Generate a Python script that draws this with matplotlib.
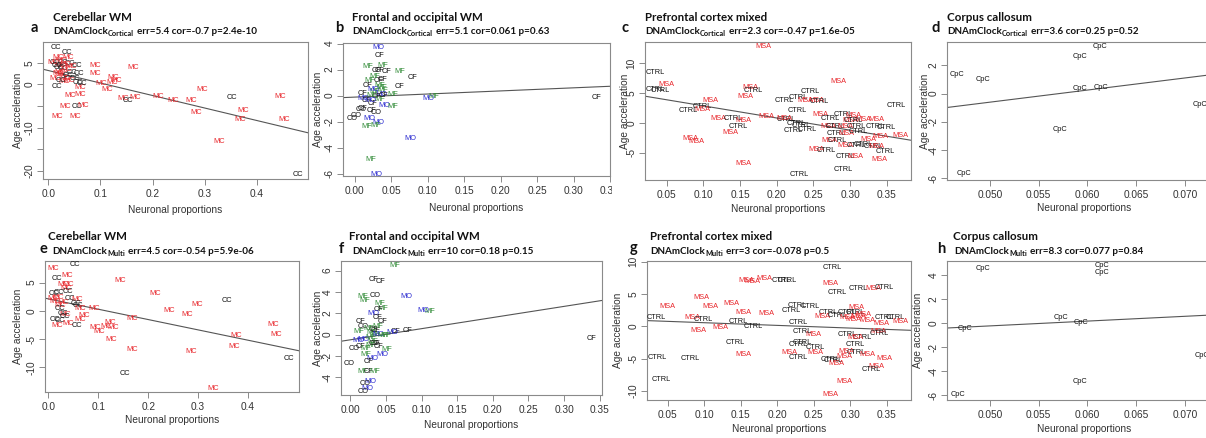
import matplotlib
matplotlib.use("Agg")
import matplotlib.pyplot as plt
from matplotlib.transforms import Bbox, TransformedBbox

plt.rcParams['font.family'] = ['Liberation Sans', 'DejaVu Sans']

W, H = 1206, 438

# ---- data (x = neuronal proportion, y = age acceleration) ----
a_x = [0.0148, 0.0365, 0.0192, 0.0384, 0.0129, 0.0288, 0.0417, 0.0225, 0.0545, 0.0288, 0.0225, 0.0449,
       0.0595, 0.0129, 0.032, 0.0512, 0.0576, 0.0608, 0.0161, 0.0896, 0.0896, 0.1236, 0.101, 0.1217, 0.112,
       0.0417, 0.0608, 0.032, 0.0545, 0.0672, 0.0161, 0.0512, 0.010, 0.025, 0.033, 0.020, 0.035, 0.027,
       0.038, 0.018, 0.030, 0.040, 0.044, 0.024, 0.016, 0.163, 0.130, 0.143, 0.152, 0.166, 0.211, 0.240,
       0.274, 0.296, 0.283, 0.353, 0.374, 0.369, 0.328, 0.445, 0.453, 0.480, 0.064]
a_y = [8.47, 7.46, 6.3, 6.3, 5.15, 5.15, 4.77, 4.38, 4.38, 3.62, 2.85, 2.85, 2.46, 1.31, 1.31, 1.31, 0.54,
       -0.62, -0.46, 4.38, 2.61, 1.54, 0.15, 0.54, -1.23, -2.54, -2.38, -5.23, -5.23, -4.85, -7.54, -7.54,
       5.0, 5.6, 4.6, 3.8, 3.4, 2.2, 2.0, 2.6, 0.6, 0.8, 4.2, 0.9, 4.4, 3.8, 0.8, -3.3, -3.8, -3.1, -2.8,
       -3.7, -3.7, -1.2, -6.5, -3.1, -6.0, -8.2, -13.2, -2.8, -8.2, -20.9, 0.2]
a_lab = ['CC', 'CC', 'MC', 'MC', 'CC', 'CC', 'CC', 'MC', 'CC', 'CC', 'MC', 'CC', 'CC', 'MC', 'MC', 'CC', 'CC',
         'MC', 'CC', 'MC', 'MC', 'MC', 'MC', 'MC', 'MC', 'MC', 'MC', 'MC', 'CC', 'MC', 'MC', 'MC', 'MC', 'MC',
         'MC', 'CC', 'MC', 'MC', 'CC', 'MC', 'MC', 'MC', 'MC', 'CC', 'CC', 'MC', 'MC', 'MC', 'CC', 'MC', 'MC',
         'MC', 'MC', 'MC', 'MC', 'CC', 'MC', 'MC', 'MC', 'MC', 'MC', 'CC', 'CC']

b_x = [0.0329, 0.0342, 0.0174, 0.0388, 0.0297, 0.034, 0.0443, 0.0616, 0.079, 0.0616, 0.0205, 0.032, 0.0388,
       0.018, 0.034, 0.0114, 0.0388, 0.0525, 0.0114, 0.0365, 0.1005, 0.1087, 0.331, 0.016, 0.025, 0.041,
       0.0516, 0.0114, 0.0228, 0.009, 0.0023, -0.0032, 0.0205, 0.032, 0.016, 0.0288, 0.0763, 0.0215, 0.0297,
       0.028, 0.030, 0.026, 0.035, 0.024, 0.040, 0.022, 0.030, 0.027, 0.037]
b_y = [3.74, 3.1, 2.26, 2.33, 1.9, 1.9, 1.82, 1.87, 1.38, 0.67, 1.18, 1.13, 1.23, 0.79, 0.79, 0.15, 0.41, 0.1,
       -0.23, 0.1, -0.23, -0.1, -0.15, -0.36, -0.62, -0.74, -0.82, -1.0, -1.13, -1.08, -1.51, -1.77, -1.77,
       -2.1, -2.36, -2.28, -3.31, -4.92, -6.05, 0.3, -0.1, 0.5, -0.3, 0.0, 0.0, -0.4, -1.3, 1.5, 0.6]
b_lab = ['MO', 'CF', 'MF', 'MF', 'CF', 'CF', 'CF', 'MF', 'CF', 'CF', 'MF', 'CF', 'CF', 'CF', 'MF', 'CF', 'MF',
         'MF', 'MO', 'MO', 'MO', 'MF', 'CF', 'CF', 'CF', 'MO', 'MF', 'CF', 'CF', 'CO', 'CO', 'CO', 'MO', 'MO',
         'MF', 'MF', 'MO', 'MF', 'MO', 'MF', 'CF', 'MO', 'MF', 'MF', 'CF', 'MO', 'CO', 'MF', 'MF']

c_x = [0.1818, 0.0341, 0.049, 0.034, 0.041, 0.0795, 0.109, 0.098, 0.098, 0.120, 0.141, 0.155, 0.148, 0.137,
       0.164, 0.168, 0.157, 0.186, 0.082, 0.091, 0.1545, 0.231, 0.2455, 0.2295, 0.2105, 0.239, 0.2536, 0.258,
       0.228, 0.2136, 0.2105, 0.226, 0.234, 0.222, 0.241, 0.284, 0.26, 0.2727, 0.291, 0.3045, 0.301, 0.318,
       0.3355, 0.3045, 0.2705, 0.2795, 0.293, 0.309, 0.334, 0.35, 0.3636, 0.281, 0.2945, 0.3114, 0.341, 0.368,
       0.2718, 0.282, 0.293, 0.309, 0.318, 0.325, 0.332, 0.2545, 0.268, 0.348, 0.336, 0.293, 0.307, 0.34, 0.291]
c_y = [12.67, 8.33, 6.44, 5.56, 5.33, 2.0, 3.78, 2.78, 2.2, 0.72, 0.72, 0.33, -0.56, -1.56, 5.9, 5.44, 4.44,
       1.11, -2.67, -3.11, -6.78, -8.72, 5.17, 4.22, 3.67, 3.67, 3.67, 3.6, 2.0, 0.56, 0.72, -0.11, -0.39,
       -1.22, -1.11, 6.83, 1.44, 0.72, 1.44, 1.28, 0.33, 0.56, 0.56, 0.33, -0.56, -0.56, -0.56, -0.56, -0.56,
       -0.78, 2.94, -1.78, -1.78, -1.5, -2.33, -2.06, -2.89, -3.0, -3.72, -3.72, -3.56, -2.78, -3.89, -4.39,
       -4.67, -4.72, -4.0, -5.67, -5.67, -6.11, -7.78]
c_lab = ['MSA', 'CTRL', 'MSA', 'CTRL', 'CTRL', 'CTRL', 'MSA', 'CTRL', 'MSA', 'MSA', 'CTRL', 'MSA', 'CTRL',
         'MSA', 'MSA', 'CTRL', 'MSA', 'MSA', 'MSA', 'MSA', 'MSA', 'CTRL', 'CTRL', 'CTRL', 'CTRL', 'MSA', 'MSA',
         'CTRL', 'CTRL', 'CTRL', 'MSA', 'CTRL', 'CTRL', 'CTRL', 'CTRL', 'MSA', 'MSA', 'CTRL', 'CTRL', 'MSA',
         'MSA', 'MSA', 'MSA', 'CTRL', 'MSA', 'CTRL', 'MSA', 'CTRL', 'CTRL', 'CTRL', 'CTRL', 'CTRL', 'MSA',
         'CTRL', 'MSA', 'MSA', 'MSA', 'CTRL', 'MSA', 'CTRL', 'CTRL', 'MSA', 'CTRL', 'MSA', 'CTRL', 'CTRL',
         'MSA', 'CTRL', 'MSA', 'MSA', 'CTRL']

d_x = [0.0466, 0.0493, 0.0592, 0.0613, 0.0592, 0.0614, 0.0572, 0.0473, 0.0715]
d_y = [1.36, 0.99, 2.59, 3.34, 0.38, 0.40, -2.54, -5.65, -0.78]
d_lab = ['CpC'] * 9

e_x = [0.010, 0.053, 0.0167, 0.0367, 0.03, 0.04, 0.035, 0.0113, 0.022, 0.04, 0.043, 0.057, 0.01, 0.013,
       0.023, 0.055, 0.06, 0.023, 0.03, 0.033, 0.013, 0.023, 0.0167, 0.04, 0.058, 0.034, 0.02, 0.03, 0.143,
       0.213, 0.298, 0.357, 0.242, 0.278, 0.0913, 0.063, 0.071, 0.063, 0.167, 0.123, 0.13, 0.115, 0.093,
       0.102, 0.125, 0.168, 0.153, 0.285, 0.331, 0.377, 0.372, 0.45, 0.457, 0.482]
e_y = [7.41, 8.24, 5.76, 6.24, 4.7, 4.7, 4.0, 3.12, 3.3, 3.5, 2.24, 1.94, 2.24, 1.65, 0.94, 1.35, 0.94, 0.35,
       -0.41, -0.7, -1.59, -1.76, -2.59, -2.18, -2.65, -1.0, 2.35, 1.53, 5.29, 3.12, 1.18, 1.76, 0.0, -0.7,
       0.35, 0.47, -0.82, -1.59, -1.41, -2.0, -2.94, -2.76, -2.94, -3.65, -5.12, -6.88, -11.0, -7.18, -13.65,
       -4.35, -6.35, -2.35, -4.12, -8.35]
e_lab = ['MC', 'CC', 'CC', 'MC', 'MC', 'MC', 'MC', 'CC', 'CC', 'CC', 'CC', 'MC', 'MC', 'MC', 'MC', 'CC', 'CC',
         'CC', 'CC', 'MC', 'CC', 'CC', 'MC', 'MC', 'CC', 'CC', 'MC', 'MC', 'MC', 'MC', 'MC', 'CC', 'MC', 'MC',
         'MC', 'MC', 'MC', 'MC', 'MC', 'MC', 'MC', 'MC', 'MC', 'MC', 'MC', 'MC', 'CC', 'MC', 'MC', 'MC', 'MC',
         'MC', 'MC', 'CC']

f_x = [0.0618, 0.0327, 0.043, 0.0178, 0.0196, 0.0351, 0.0786, 0.102, 0.111, 0.338, 0.042, 0.0459, 0.04,
       0.0327, 0.0375, 0.0445, 0.014, 0.0178, 0.0117, 0.0319, 0.0632, 0.0796, 0.0585, 0.0117, 0.0187, 0.0047,
       0.014, 0.021, 0.0351, 0.04, 0.0515, 0.021, 0.0305, 0.0445, -0.0023, 0.0257, 0.0178, 0.0257, 0.0337,
       0.0281, 0.021, 0.0234, 0.0178, 0.030, 0.034, 0.028, 0.036, 0.032, 0.040, 0.045, 0.026, 0.038, 0.029,
       0.033, 0.050]
f_y = [6.52, 5.16, 4.94, 3.6, 3.17, 3.7, 3.54, 2.3, 2.14, -0.37, 2.93, 2.46, 2.37, 1.99, 1.62, 1.21, 1.21,
       0.81, 0.28, 0.5, 0.28, 0.37, 0.19, -0.59, -0.43, -1.27, -1.12, -1.27, -0.8, -1.12, -1.36, -1.89, -2.2,
       -1.89, -2.73, -2.52, -3.45, -3.45, -3.45, -4.38, -4.6, -5.0, -5.31, 0.2, 0.0, -0.3, 0.4, -0.6, 0.0,
       -0.1, 0.6, 0.8, -1.0, -0.8, -0.05]
f_lab = ['MF', 'CF', 'CF', 'MF', 'MF', 'CO', 'MO', 'MO', 'MF', 'CF', 'MF', 'MF', 'CF', 'MO', 'CF', 'CF', 'CF',
         'CO', 'MF', 'CF', 'CF', 'CF', 'MO', 'MO', 'MO', 'CO', 'CF', 'MF', 'CF', 'CF', 'MF', 'MF', 'MO', 'MO',
         'CO', 'CF', 'MF', 'CF', 'MF', 'MO', 'CO', 'MO', 'CO', 'MF', 'MF', 'MF', 'CF', 'MF', 'MO', 'MF', 'MF',
         'MF', 'MF', 'CO', 'MF']

g_x = [0.2756, 0.158, 0.166, 0.182, 0.206, 0.213, 0.272, 0.282, 0.311, 0.331, 0.347, 0.049, 0.096, 0.108,
       0.137, 0.154, 0.185, 0.034, 0.084, 0.099, 0.146, 0.167, 0.122, 0.092, 0.143, 0.1535, 0.0355, 0.081,
       0.041, 0.219, 0.227, 0.245, 0.2285, 0.308, 0.27, 0.261, 0.282, 0.296, 0.307, 0.296, 0.311, 0.304,
       0.318, 0.323, 0.343, 0.347, 0.362, 0.368, 0.339, 0.339, 0.25, 0.234, 0.296, 0.316, 0.307, 0.234,
       0.228, 0.252, 0.307, 0.217, 0.252, 0.229, 0.272, 0.277, 0.281, 0.294, 0.3075, 0.292, 0.323, 0.347,
       0.335, 0.329, 0.292, 0.273]
g_y = [9.17, 7.1, 7.0, 7.36, 7.15, 7.1, 6.63, 5.18, 5.85, 5.85, 5.96, 3.1, 4.4, 3.1, 3.47, 2.07, 1.97, 1.4,
       1.3, 1.04, 0.78, -0.1, -0.16, -0.67, -2.43, -4.3, -4.82, -5.03, -8.29, 2.44, 3.26, 3.0, 0.62, 2.95,
       2.07, 1.55, 1.71, 2.07, 2.07, 1.3, 1.55, 1.04, 1.8, 0.88, 0.36, 1.4, 1.4, 0.78, -0.78, -1.04, -1.2,
       -0.88, -1.3, -1.71, -1.71, -2.43, -2.85, -3.26, -2.85, -3.99, -3.99, -4.82, -5.18, -5.34, -5.7, -3.89,
       -3.99, -4.66, -4.3, -4.92, -6.22, -6.74, -8.55, -10.6]
g_lab = ['CTRL', 'MSA', 'MSA', 'MSA', 'CTRL', 'CTRL', 'MSA', 'CTRL', 'CTRL', 'MSA', 'CTRL', 'MSA', 'MSA',
         'MSA', 'MSA', 'MSA', 'MSA', 'CTRL', 'MSA', 'CTRL', 'CTRL', 'CTRL', 'MSA', 'MSA', 'CTRL', 'MSA',
         'CTRL', 'CTRL', 'CTRL', 'CTRL', 'CTRL', 'CTRL', 'CTRL', 'MSA', 'CTRL', 'MSA', 'CTRL', 'CTRL', 'CTRL',
         'MSA', 'MSA', 'MSA', 'MSA', 'MSA', 'MSA', 'CTRL', 'CTRL', 'MSA', 'MSA', 'CTRL', 'MSA', 'CTRL', 'CTRL',
         'CTRL', 'MSA', 'CTRL', 'CTRL', 'CTRL', 'CTRL', 'MSA', 'MSA', 'CTRL', 'CTRL', 'CTRL', 'MSA', 'MSA',
         'CTRL', 'MSA', 'MSA', 'MSA', 'MSA', 'CTRL', 'MSA', 'MSA']

h_x = [0.0493, 0.0615, 0.0615, 0.0474, 0.0573, 0.0593, 0.0592, 0.0467, 0.0717]
h_y = [4.53, 4.78, 4.17, -0.42, 0.47, 0.08, -4.86, -5.92, -2.69]
h_lab = ['CpC'] * 9

# fitted regression lines (intercept, slope)
fits = {'a': (3.2, -28.9), 'b': (-0.112, 2.38), 'c': (4.86, -20.3), 'd': (-4.895, 85.7),
        'e': (2.12, -18.28), 'f': (-0.48, 10.43), 'g': (0.97, -4.15), 'h': (-2.233, 39.8)}

titles = {'a': 'Cerebellar WM', 'b': 'Frontal and occipital WM', 'c': 'Prefrontal cortex mixed',
          'd': 'Corpus callosum', 'e': 'Cerebellar WM', 'f': 'Frontal and occipital WM',
          'g': 'Prefrontal cortex mixed', 'h': 'Corpus callosum'}
subtitles = {'a': ('Cortical', 'err=5.4 cor=-0.7 p=2.4e-10'),
             'b': ('Cortical', 'err=5.1 cor=0.061 p=0.63'),
             'c': ('Cortical', 'err=2.3 cor=-0.47 p=1.6e-05'),
             'd': ('Cortical', 'err=3.6 cor=0.25 p=0.52'),
             'e': ('Multi', 'err=4.5 cor=-0.54 p=5.9e-06'),
             'f': ('Multi', 'err=10 cor=0.18 p=0.15'),
             'g': ('Multi', 'err=3 cor=-0.078 p=0.5'),
             'h': ('Multi', 'err=8.3 cor=0.077 p=0.84')}

label_colors = {'MC': '#e8262b', 'MSA': '#e8262b', 'MF': '#2f8a35', 'MO': '#2b2bd0'}

fig = plt.figure(figsize=(W / 100, H / 100), dpi=100)
fig.patch.set_facecolor('white')
renderer = fig.canvas.get_renderer()


def ftext(x, y, s, **kw):
    return fig.text(x / W, 1 - y / H, s, **kw)


def subtitle(x, y, sub, stats):
    # "DNAmClock" with a real subscript, then the statistics
    kw = dict(fontweight='bold', family='Lato', va='baseline', color='#111111')
    t1 = ftext(x, y, 'DNAmClock', fontsize=7.1, **kw)
    x1 = t1.get_window_extent(renderer).x1
    t2 = ftext(x1 + 0.3, y + 2.0, sub, fontsize=5.3, **kw)
    x2 = t2.get_window_extent(renderer).x1
    ftext(x2 + 2.6, y, stats, fontsize=7.1, **kw)


def panel(key, xs, ys, labs, box, xlim, ylim, xticks, xtl, yticks, ytl,
          head, ylab_dx, xlab_dy, clip_right=None):
    l, t, r, b = box
    ax = fig.add_axes([l / W, 1 - b / H, (r - l) / W, (b - t) / H])
    for x, y, s in zip(xs, ys, labs):
        ax.text(x, y, s, fontsize=5.3, ha='center', va='center',
                color=label_colors.get(s, '#111111'), clip_on=True)
    b0, m = fits[key]
    ax.axline((0, b0), slope=m, color='#555555', lw=0.8)
    ax.set_xlim(xlim)
    ax.set_ylim(ylim)
    ax.set_xticks(xticks)
    ax.set_xticklabels(xtl)
    ax.set_yticks(yticks)
    ax.set_yticklabels(ytl, rotation=90, va='center')
    ax.tick_params(length=4, width=0.7, color='#8a8a8a', labelsize=7.3, labelcolor='#333333')
    ax.tick_params(axis='x', pad=3)
    ax.tick_params(axis='y', pad=2)
    for sp in ax.spines.values():
        sp.set_color('#8a8a8a')
        sp.set_linewidth(0.8)
    ax.set_xlabel('Neuronal proportions', fontsize=7.3, color='#333333', va='center')
    ax.set_ylabel('Age acceleration', fontsize=7.3, color='#333333', va='center', ha='center')
    ax.xaxis.set_label_coords(0.5, -xlab_dy / (b - t))
    ax.yaxis.set_label_coords(-ylab_dx / (r - l), 0.5)
    if clip_right is not None:
        cb = TransformedBbox(Bbox([[0, 0], [clip_right / W, 1]]), fig.transFigure)
        for lbl in ax.get_xticklabels():
            lbl.set_clip_box(cb)
            lbl.set_clip_on(True)
    (tx, sx, lx, ty, sy, ly) = head
    ftext(tx, ty, titles[key], fontsize=8.3, fontweight='bold', family='Lato', va='baseline',
          color='#111111')
    sub, stats = subtitles[key]
    subtitle(sx, sy, sub, stats)
    ftext(lx, ly, key, fontsize=10.5, fontweight='bold', family='Lato', va='baseline', color='#111111')
    return ax


x1 = [0.0, 0.1, 0.2, 0.3, 0.4]
x1l = ['0.0', '0.1', '0.2', '0.3', '0.4']
x2 = [0.0, 0.05, 0.10, 0.15, 0.20, 0.25, 0.30, 0.35]
x2l = ['0.00', '0.05', '0.10', '0.15', '0.20', '0.25', '0.30', '0.35']
x3 = [0.05, 0.10, 0.15, 0.20, 0.25, 0.30, 0.35]
x3l = ['0.05', '0.10', '0.15', '0.20', '0.25', '0.30', '0.35']
x4 = [0.050, 0.055, 0.060, 0.065, 0.070]
x4l = ['0.050', '0.055', '0.060', '0.065', '0.070']

panel('a', a_x, a_y, a_lab, (43, 42, 308, 179), (-0.0102, 0.4985), (-21.9, 9.8), x1, x1l,
      [-20, -15, -10, -5, 0, 5], ['-20', '', '-10', '', '0', '5'],
      (53, 53, 31, 20.7, 34.3, 32.3), 25, 31)
panel('b', b_x, b_y, b_lab, (343, 43, 610, 176), (-0.016, 0.349), (-6.18, 4.05), x2, x2l,
      [-6, -4, -2, 0, 2, 4], ['-6', '-4', '-2', '0', '2', '4'],
      (352, 352, 335, 20.7, 34.3, 32.3), 25, 32, clip_right=612)
panel('c', c_x, c_y, c_lab, (645, 42, 911, 180), (0.0204, 0.3831), (-9.56, 13.5), x3, x3l,
      [-5, 0, 5, 10], ['-5', '0', '5', '10'],
      (645, 645, 622, 20.7, 34.3, 32.3), 20, 29)
panel('d', d_x, d_y, d_lab, (947, 42, 1222, 180), (0.0456, 0.0738), (-6.12, 3.65), x4, x4l,
      [-6, -4, -2, 0, 2], ['-6', '-4', '-2', '0', '2'],
      (947, 947, 931, 20.7, 34.3, 32.3), 22, 28)
panel('e', e_x, e_y, e_lab, (45, 261, 299, 392), (-0.0067, 0.502), (-14.35, 8.82), x1, x1l,
      [-10, -5, 0, 5], ['-10', '-5', '0', '5'],
      (48, 52, 39, 239.7, 254, 253), 27, 28)
panel('f', f_x, f_y, f_lab, (341, 261, 602, 395), (-0.0131, 0.3533), (-5.65, 6.9), x2, x2l,
      [-4, -2, 0, 2, 4, 6], ['-4', '-2', '0', '2', '4', '6'],
      (349, 352, 339, 239.7, 254, 253), 23, 30)
panel('g', g_x, g_y, g_lab, (647, 261, 911, 400), (0.0215, 0.383), (-11.4, 10.1), x3, x3l,
      [-10, -5, 0, 5, 10], ['-10', '-5', '0', '5', '10'],
      (650, 650, 630, 239.7, 254.5, 252), 29, 29)
panel('h', h_x, h_y, h_lab, (947, 261, 1222, 400), (0.0456, 0.0738), (-6.39, 5.14), x4, x4l,
      [-6, -4, -2, 0, 2, 4], ['-6', '-4', '-2', '0', '2', '4'],
      (953, 954, 937, 239.7, 254, 253), 29, 29)

fig.savefig('out.png', dpi=100)
